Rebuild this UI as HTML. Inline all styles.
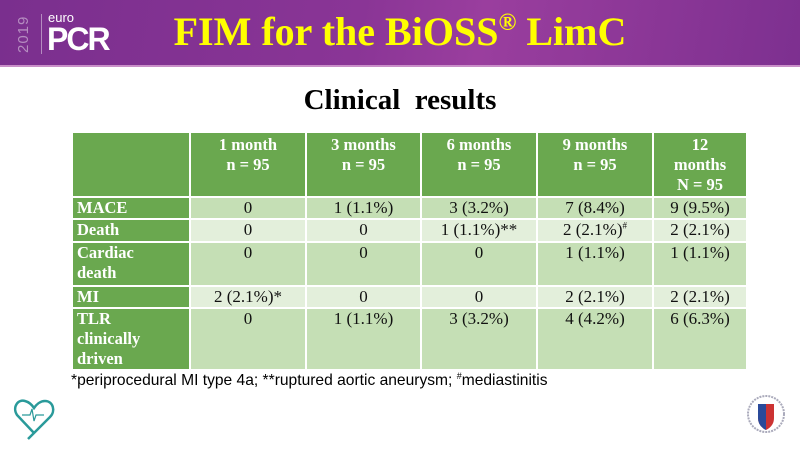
<!DOCTYPE html>
<html><head><meta charset="utf-8"><style>
body{margin:0;width:800px;height:450px;overflow:hidden;background:#fff;position:relative;font-family:"Liberation Serif",serif}
.hdr{position:absolute;left:0;top:0;width:800px;height:65px;background:linear-gradient(100deg,#7a2f8e 0%,#8a3596 45%,#9a3e9e 60%,#7d3090 100%);border-bottom:2px solid #c98fc8}
.title{position:absolute;left:100px;width:600px;top:8px;text-align:center;color:#ffff00;font-weight:bold;font-size:40px;white-space:nowrap}
.title sup{font-size:24px;vertical-align:15px;line-height:0}
.yr{position:absolute;color:#b58cc0;font-family:"Liberation Sans",sans-serif;font-size:15px;transform:rotate(-90deg);transform-origin:center;width:40px;height:18px;line-height:18px;top:24px;left:4px;letter-spacing:1px}
.bar{position:absolute;left:41px;top:14px;width:1px;height:40px;background:#b58cc0}
.euro{position:absolute;left:48px;top:10px;color:#fff;font-family:"Liberation Sans",sans-serif;font-size:13px}
.pcr{position:absolute;left:47px;top:22px;color:#fff;font-family:"Liberation Sans",sans-serif;font-size:32px;font-weight:bold;letter-spacing:-2px;line-height:34px}
.sub{position:absolute;left:0;width:800px;top:84px;text-align:center;font-weight:bold;font-size:29px;color:#000}
table{position:absolute;left:71px;top:131px;border-collapse:collapse;table-layout:fixed;font-size:17px}
td{border:2px solid #fff;padding:0 4px;vertical-align:top;text-align:center;line-height:20px;font-family:"Liberation Serif",serif;color:#111}
td.l{background:#6aa84f;color:#fff;font-weight:bold;text-align:left;font-size:16.5px}
tr.h td{background:#6aa84f;color:#fff;font-weight:bold;font-size:16.5px;padding-top:2px}
tr.a td:not(.l){background:#c5dfb5}
tr.b td:not(.l){background:#e3efdb}
.fn{position:absolute;left:71px;top:371px;font-family:"Liberation Sans",sans-serif;font-size:15.6px;color:#000}
</style></head><body>
<div class="hdr">
<div class="yr">2019</div><div class="bar"></div>
<div class="euro">euro</div><div class="pcr">PCR</div>
<div class="title">FIM for the BiOSS<sup>®</sup> LimC</div>
</div>
<div class="sub">Clinical&nbsp; results</div>
<table>
<colgroup><col style="width:118px"><col style="width:116px"><col style="width:115px"><col style="width:116px"><col style="width:116px"><col style="width:94px"></colgroup>
<tr class="h" style="height:65px"><td></td><td>1 month<br>n = 95</td><td>3 months<br>n = 95</td><td>6 months<br>n = 95</td><td>9 months<br>n = 95</td><td>12<br>months<br>N = 95</td></tr>
<tr class="a" style="height:22px"><td class="l">MACE</td><td>0</td><td>1 (1.1%)</td><td>3 (3.2%)</td><td>7 (8.4%)</td><td>9 (9.5%)</td></tr>
<tr class="b" style="height:23px"><td class="l">Death</td><td>0</td><td>0</td><td>1 (1.1%)**</td><td>2 (2.1%)<sup style="font-size:9px;line-height:0">#</sup></td><td>2 (2.1%)</td></tr>
<tr class="a" style="height:44px"><td class="l">Cardiac<br>death</td><td>0</td><td>0</td><td>0</td><td>1 (1.1%)</td><td>1 (1.1%)</td></tr>
<tr class="b" style="height:22px"><td class="l">MI</td><td>2 (2.1%)*</td><td>0</td><td>0</td><td>2 (2.1%)</td><td>2 (2.1%)</td></tr>
<tr class="a" style="height:62px"><td class="l">TLR<br>clinically<br>driven</td><td>0</td><td>1 (1.1%)</td><td>3 (3.2%)</td><td>4 (4.2%)</td><td>6 (6.3%)</td></tr>
</table>
<div class="fn">*periprocedural MI type 4a; **ruptured aortic aneurysm; <sup style="font-size:9px">#</sup>mediastinitis</div>
<svg style="position:absolute;left:12px;top:395px" width="44" height="45" viewBox="0 0 44 45"><path d="M22 38 L5 20 C0 12 6 4 13 6 C17 7 20 10 22 13 C24 10 28 6 33 6 C41 6 44 16 38 22 L16 44" fill="none" stroke="#2a9a9a" stroke-width="2.5"/><path d="M10 20 L18 20 L20 14 L22 26 L24 20 L32 20" fill="none" stroke="#2a9a9a" stroke-width="1.2"/></svg>
<svg style="position:absolute;left:746px;top:390px" width="40" height="50" viewBox="0 0 40 50"><circle cx="20" cy="24" r="18" fill="none" stroke="#aab" stroke-width="2" stroke-dasharray="2 1"/><path d="M12 14 H28 V28 Q28 36 20 40 Q12 36 12 28 Z" fill="#c33"/><path d="M12 14 H20 V40 Q12 36 12 28 Z" fill="#2a4a9a"/></svg>
</body></html>
